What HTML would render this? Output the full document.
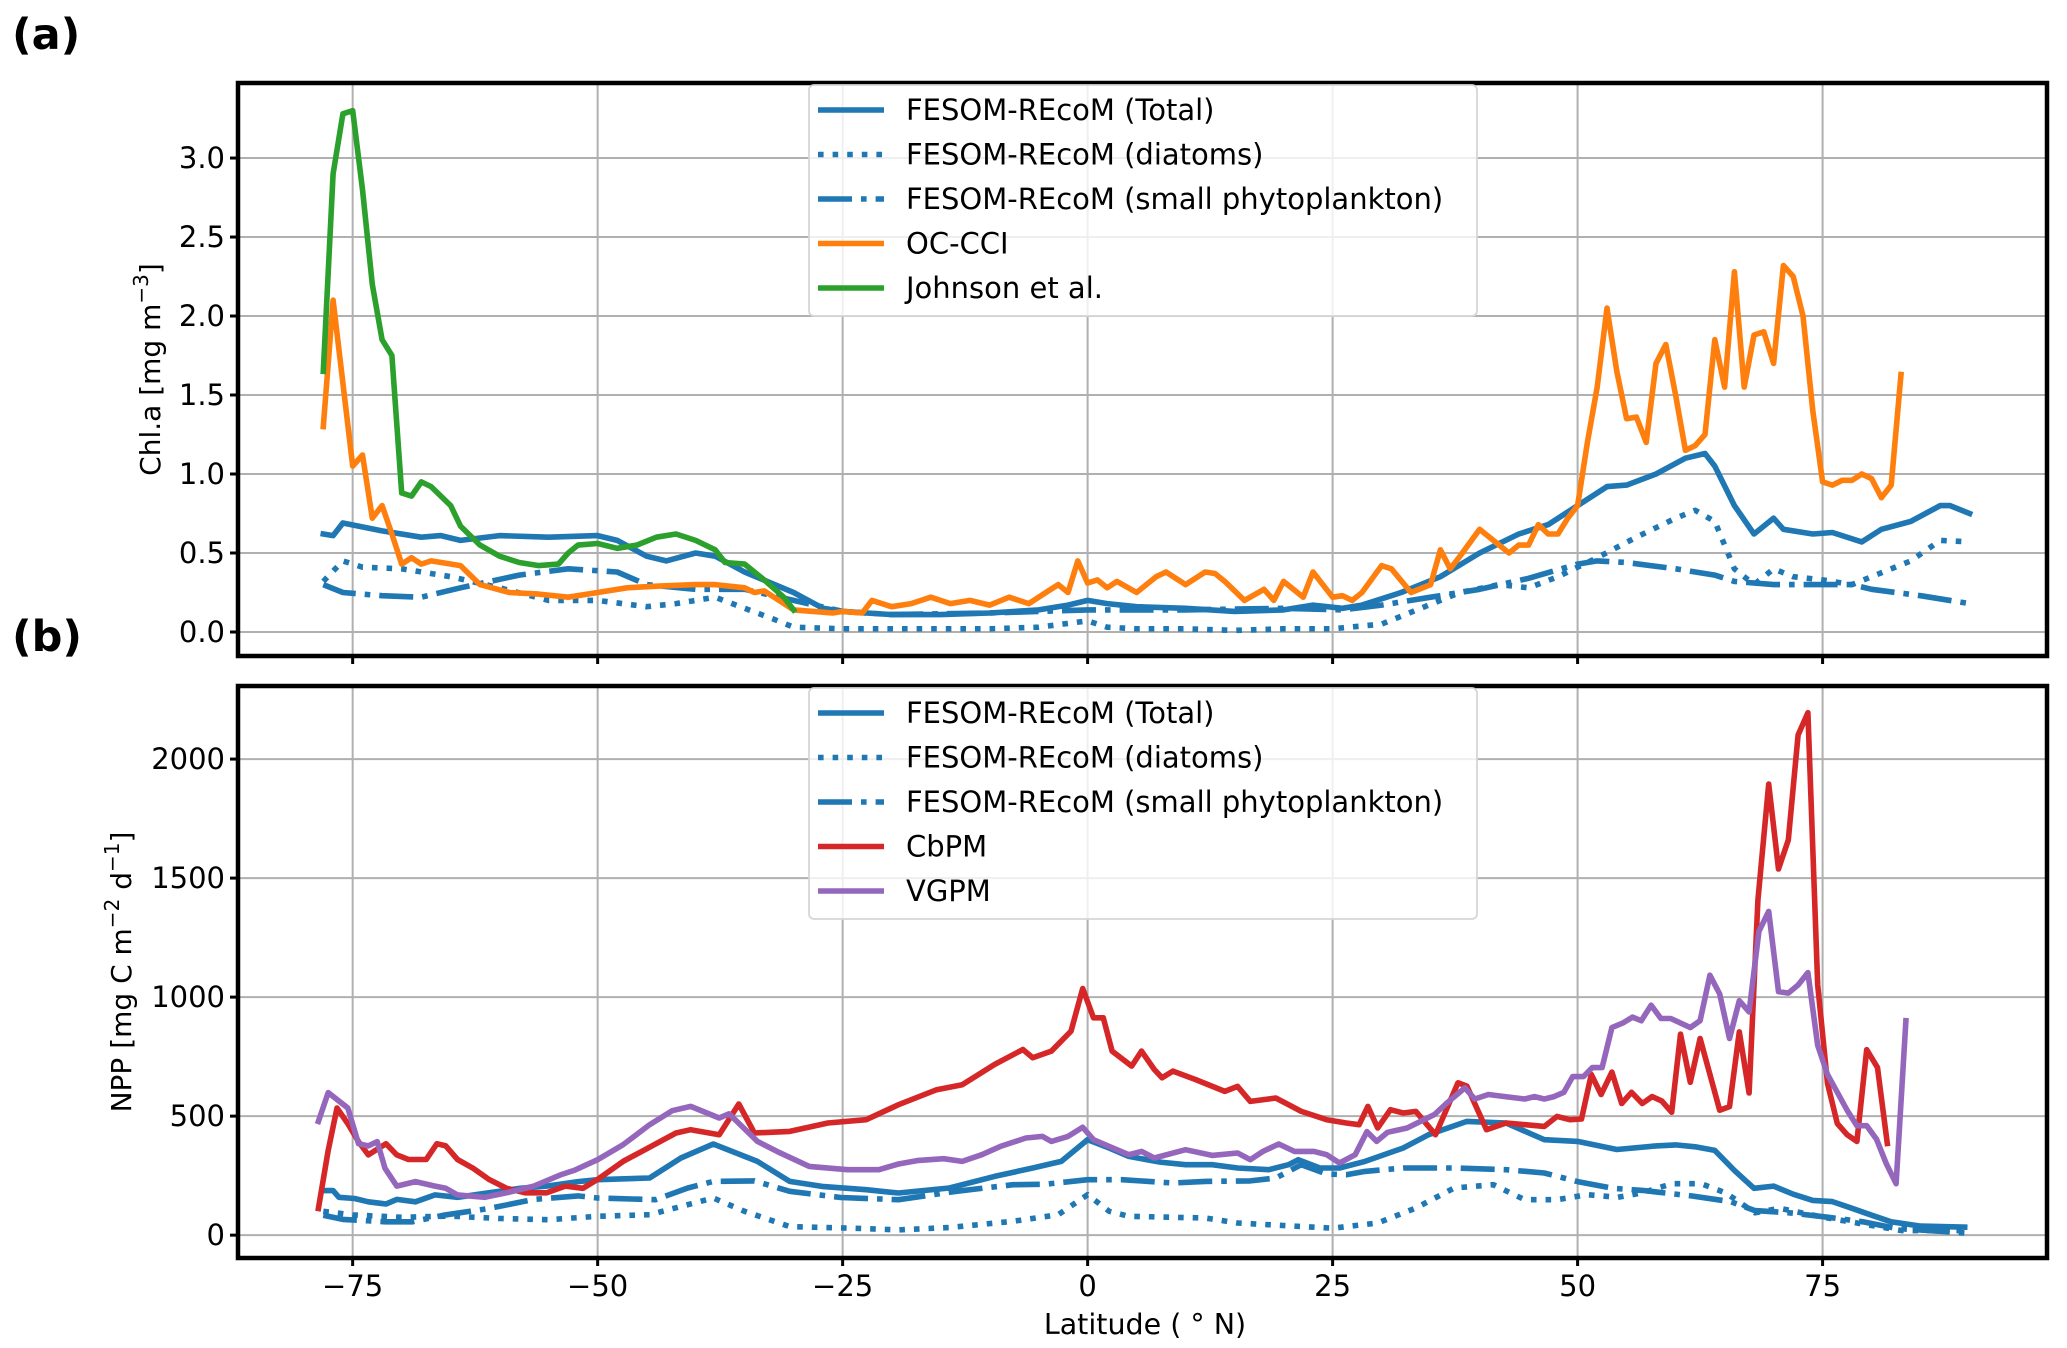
<!DOCTYPE html>
<html><head><meta charset="utf-8">
<style>
html,body{margin:0;padding:0;background:#fff;}
svg{display:block;font-family:"DejaVu Sans","Liberation Sans",sans-serif;}
</style></head>
<body>
<svg id="fig" width="2067" height="1348" viewBox="0 0 2067 1348" xmlns="http://www.w3.org/2000/svg"></svg>
<script>
// ---------- Panel (a): Chl.a ----------
const chlTotalLat = [-78,-77,-76,-72,-68,-66,-64,-60,-55,-50,-48,-45,-43,-40,-38,-35,-30,-27,-25,-20,-15,-10,-5,-2,0,2,5,10,15,20,23,26,28,32,36,40,44,47,50,53,55,58,61,63,64,66,68,70,71,74,76,79,81,84,87,88,90];
const chlTotalVal = [0.62,0.61,0.69,0.64,0.60,0.61,0.58,0.61,0.60,0.61,0.58,0.48,0.45,0.50,0.48,0.38,0.25,0.15,0.13,0.11,0.11,0.12,0.14,0.17,0.20,0.18,0.16,0.15,0.13,0.14,0.17,0.15,0.17,0.25,0.35,0.50,0.62,0.68,0.80,0.92,0.93,1.0,1.1,1.13,1.05,0.8,0.62,0.72,0.65,0.62,0.63,0.57,0.65,0.7,0.80,0.80,0.75];
const chlDiatLat = [-78,-76,-74,-70,-65,-60,-55,-50,-45,-42,-38,-35,-32,-30,-25,-20,-10,-5,0,2,5,10,15,20,25,30,34,38,42,45,48,52,56,60,62,64,66,68,70,72,75,78,80,84,87,90];
const chlDiatVal = [0.32,0.45,0.41,0.40,0.35,0.28,0.20,0.20,0.16,0.18,0.22,0.15,0.08,0.03,0.02,0.02,0.02,0.03,0.07,0.03,0.02,0.02,0.01,0.02,0.02,0.05,0.15,0.25,0.30,0.28,0.35,0.47,0.60,0.72,0.77,0.70,0.40,0.30,0.40,0.35,0.33,0.30,0.35,0.45,0.58,0.57];
const chlSmallLat = [-78,-76,-72,-68,-64,-58,-53,-48,-45,-40,-35,-30,-25,-20,-10,0,10,20,26,30,35,40,45,50,52,55,60,64,66,70,74,78,80,85,90];
const chlSmallVal = [0.30,0.25,0.23,0.22,0.28,0.36,0.40,0.38,0.30,0.27,0.27,0.20,0.13,0.11,0.12,0.14,0.14,0.15,0.14,0.17,0.22,0.27,0.34,0.43,0.45,0.44,0.40,0.36,0.32,0.30,0.30,0.30,0.27,0.23,0.18];
const occiLat = [-78,-77,-75,-74,-73,-72,-71,-70,-69,-68,-67,-64,-62,-59,-56,-53,-50,-47,-44,-40,-38,-35,-34,-33,-32,-30,-28,-26,-25,-23,-22,-20,-18,-16,-14,-12,-10,-8,-6,-4,-3,-2,-1,0,1,2,3,5,7,8,10,12,13,14,16,18,19,20,22,23,25,26,27,28,30,31,33,35,36,37,38,40,42,43,44,45,46,47,48,49,50,51,52,53,54,55,56,57,58,59,60,61,62,63,64,65,66,67,68,69,70,71,72,73,74,75,76,77,78,79,80,81,82,83];
const occiVal = [1.30,2.10,1.05,1.12,0.72,0.80,0.62,0.43,0.47,0.43,0.45,0.42,0.30,0.25,0.24,0.22,0.25,0.28,0.29,0.30,0.30,0.28,0.25,0.26,0.22,0.14,0.13,0.12,0.13,0.12,0.20,0.16,0.18,0.22,0.18,0.20,0.17,0.22,0.18,0.26,0.30,0.25,0.45,0.31,0.33,0.28,0.32,0.25,0.35,0.38,0.30,0.38,0.37,0.32,0.20,0.27,0.20,0.32,0.22,0.38,0.22,0.23,0.20,0.25,0.42,0.40,0.25,0.30,0.52,0.40,0.48,0.65,0.55,0.50,0.55,0.55,0.68,0.62,0.62,0.72,0.80,1.20,1.55,2.05,1.65,1.35,1.36,1.20,1.70,1.82,1.50,1.15,1.18,1.25,1.85,1.55,2.28,1.55,1.88,1.90,1.70,2.32,2.25,2.00,1.40,0.95,0.93,0.96,0.96,1.00,0.97,0.85,0.93,1.63];
const johnsonLat = [-78,-77,-76,-75,-74,-73,-72,-71,-70,-69,-68,-67,-65,-64,-62,-60,-58,-56,-54,-53,-52,-50,-48,-46,-44,-42,-40,-38,-37,-35,-33,-31,-30];
const johnsonVal = [1.65,2.90,3.28,3.30,2.80,2.20,1.85,1.75,0.88,0.86,0.95,0.92,0.80,0.67,0.55,0.48,0.44,0.42,0.43,0.50,0.55,0.56,0.53,0.55,0.60,0.62,0.58,0.52,0.44,0.43,0.33,0.22,0.14];
const chlTicks = [0,0.5,1.0,1.5,2.0,2.5,3.0];
const chlTickLabels = ["0.0","0.5","1.0","1.5","2.0","2.5","3.0"];

// ---------- Panel (b): NPP ----------
const nppTotalLat = [-78,-77,-76.4,-74.8,-73.4,-71.6,-70.5,-68.6,-66.6,-64.3,-61.1,-57.9,-55.2,-52,-50,-44.7,-41.5,-38.2,-33.7,-30.4,-27.1,-22.6,-19.3,-14.1,-9.5,-5.6,-2.7,0,2.2,4.2,7.4,10,12.7,15.3,18.5,20.5,21.5,23.7,25.7,28.3,32.2,34.8,38.7,42.7,46.6,50,54,58,60,62,64,66,68,70,72,74,76,78,80,82,85,89.5];
const nppTotalVal = [187,187,159,154,140,131,150,140,169,159,178,197,206,225,233,240,324,383,310,226,205,191,177,198,247,282,310,401,366,331,307,296,296,282,275,296,317,282,282,310,366,422,478,471,401,394,360,375,379,371,356,272,197,206,172,146,141,113,84,56,38,34];
const nppDiatLat = [-78,-75,-70,-65,-60,-55,-50,-44.7,-38.2,-35,-30.4,-23.9,-19.3,-14.1,-7.6,-3,0,2.2,4.2,12,15.3,25,29.6,33.5,37.4,41.4,44.6,47.9,51,54.1,56.6,59.6,62.6,65.1,68.1,70.6,75.1,79.1,83.1,89.6];
const nppDiatVal = [100,85,75,80,70,65,79,86,156,100,36,29,22,32,58,86,170,100,79,72,51,29,51,114,198,212,149,149,170,159,178,216,216,178,94,113,75,47,19,19];
const nppSmallLat = [-78,-76,-71.6,-68.9,-65.7,-61.1,-56.5,-52,-50,-44.1,-40.8,-38.2,-34,-30.4,-25.2,-19.3,-13.4,-7.6,-4.3,0,3.5,8.7,12,16.6,19.2,21.8,24.4,26.4,28.3,32.2,37.4,42.7,46.6,50,53.6,56.6,61.6,65.6,68.1,71.6,75.6,79.1,82.6,89.6];
const nppSmallVal = [84,66,56,56,84,112,150,165,156,149,198,226,228,184,158,149,184,212,214,233,233,219,226,228,240,296,257,254,268,282,282,275,261,225,197,188,165,141,103,94,75,56,28,9];
const cbpmLat = [-78.5,-77.5,-76.6,-75.5,-74.4,-73.4,-71.6,-70.5,-69.3,-67.5,-66.4,-65.5,-64.3,-62.7,-61.1,-59.3,-57.4,-55.2,-53.3,-51.5,-50,-47.4,-42,-40.5,-37.6,-35.6,-34,-30.4,-26.5,-22.6,-19.3,-15.4,-12.8,-9.5,-6.6,-5.6,-3.7,-1.7,-0.5,0.6,1.6,2.5,4.5,5.5,6.8,7.6,8.7,11,14,15.3,16.6,19.2,21.8,24.4,26.4,27.7,28.6,29.6,30.9,32.2,33.5,35.5,37.8,38.7,40.7,42.7,46.6,47.9,49.2,50.4,51.4,52.4,53.5,54.5,55.5,56.6,57.6,58.6,59.6,60.5,61.5,62.5,64.5,65.5,66.5,67.5,68.4,69.5,70.5,71.5,72.5,73.5,74.5,75.5,76.5,77.5,78.5,79.5,80.6,81.6];
const cbpmVal = [112,356,534,468,393,337,384,337,318,318,384,375,318,281,234,197,178,178,206,197,234,310,429,443,422,551,429,436,471,485,548,611,632,717,780,745,773,857,1036,913,913,773,710,773,696,661,689,654,604,625,562,576,520,485,471,464,541,450,527,513,520,422,640,626,443,471,457,499,485,488,675,591,685,553,600,553,582,563,516,844,642,826,525,540,854,597,1407,1895,1538,1660,2101,2195,1051,638,469,422,394,779,704,385];
const vgpmLat = [-78.5,-77.5,-75.5,-74.4,-73.4,-72.5,-71.7,-70.5,-68.6,-66.6,-65.5,-64.3,-61.5,-59.3,-56.5,-53.8,-52.4,-50,-47.4,-44.7,-42.4,-40.5,-37.6,-36.6,-33.7,-31.7,-28.4,-24.5,-21.3,-19.3,-17.4,-14.7,-12.8,-10.8,-8.9,-6.3,-4.6,-3.7,-2,-0.5,0.6,2.2,4.2,5.5,6.8,10,12.7,15.3,16.6,17.9,19.5,21.1,23.1,24.4,25.7,27.3,28.5,29.5,30.6,32.6,35.4,36.6,38.5,39.5,40.9,42.6,44.6,45.6,46.6,47.6,48.6,49.5,50.6,51.5,52.5,53.5,54.6,55.6,56.5,57.5,58.5,59.5,61.5,62.5,63.5,64.5,65.5,66.5,67.5,68.5,69.5,70.5,71.5,72.5,73.5,74.5,75.5,76.5,77.5,78.5,79.5,80.5,81.5,82.5,83.5];
const vgpmVal = [478,599,534,384,375,393,281,206,225,206,197,169,159,178,206,253,272,317,380,464,523,541,492,510,394,352,289,275,275,299,313,321,310,338,373,408,415,394,415,453,401,373,338,352,324,359,335,345,317,352,383,352,352,338,303,338,435,394,432,450,507,553,619,572,591,582,572,582,572,582,600,666,666,704,704,872,891,916,901,966,910,910,872,901,1092,1013,826,985,938,1276,1360,1023,1017,1051,1103,797,675,600,525,460,460,403,300,216,901];
const nppTicks = [0,500,1000,1500,2000];
const nppTickLabels = ["0","500","1000","1500","2000"];

const latTicks = [-75,-50,-25,0,25,50,75];
const latTickLabels = ["\u221275","\u221250","\u221225","0","25","50","75"];

// ---------- geometry ----------
const NS = "http://www.w3.org/2000/svg";
const svg = document.getElementById('fig');
const AX_L = 238, AX_R = 2047;
const LAT_MIN = -86.7, LAT_MAX = 97.9;
function xScale(lat){ return AX_L + (lat - LAT_MIN) / (LAT_MAX - LAT_MIN) * (AX_R - AX_L); }
const panelA = {top:83, bottom:656, vmin:-0.152, vmax:3.475};
const panelB = {top:686, bottom:1258, vmin:-96, vmax:2307};
function yScale(p, v){ return p.bottom - (v - p.vmin) / (p.vmax - p.vmin) * (p.bottom - p.top); }

function el(tag, attrs, parent){
  const e = document.createElementNS(NS, tag);
  for (const k in attrs) e.setAttribute(k, attrs[k]);
  (parent || svg).appendChild(e);
  return e;
}
const C = {blue:'#1f77b4', orange:'#ff7f0e', green:'#2ca02c', red:'#d62728', purple:'#9467bd'};
const LW = 5.6;
const STYLE = {
  solid:{dash:null},
  dotted:{dash:'5.6,9'},
  dashdot:{dash:'34,9,5.6,9'}
};

function drawPanel(p, name, ticks, tickLabels, series, legendItems, ylabel, ylabelX){
  const g = el('g', {});
  
  
  const grid = el('g', {}, g);
  
  
  latTicks.forEach(t => {
    const x = xScale(t);
    el('line', {x1:x, x2:x, y1:p.top, y2:p.bottom, stroke:'#b0b0b0', 'stroke-width':2}, grid);
  });
  ticks.forEach(t => {
    const y = yScale(p, t);
    el('line', {x1:AX_L, x2:AX_R, y1:y, y2:y, stroke:'#b0b0b0', 'stroke-width':2}, grid);
  });
  const cid = 'clip-' + name;
  const cp = el('clipPath', {id:cid}, g);
  el('rect', {x:AX_L, y:p.top, width:AX_R-AX_L, height:p.bottom-p.top}, cp);
  const lines = el('g', {'clip-path':'url(#'+cid+')'}, g);
  series.forEach(s => {
    const d = s.lat.map((la,i) => (i?'L':'M') + xScale(la).toFixed(1) + ',' + yScale(p, s.val[i]).toFixed(1)).join('');
    const path = el('path', {d:d, fill:'none', stroke:s.color, 'stroke-width':LW, 'stroke-linejoin':'round', 'stroke-linecap': s.style==='solid'?'square':'butt'}, lines);
    if (STYLE[s.style].dash) path.setAttribute('stroke-dasharray', STYLE[s.style].dash);
    
    
  });
  ticks.forEach((t,i) => {
    const y = yScale(p, t);
    el('line', {x1:AX_L-8, x2:AX_L, y1:y, y2:y, stroke:'#000', 'stroke-width':3}, g);
    const tx = el('text', {x:AX_L-13, y:y+10, 'font-size':29, 'text-anchor':'end', fill:'#000'}, g);
    tx.textContent = tickLabels[i];
    
    
  });
  latTicks.forEach(t => {
    const x = xScale(t);
    el('line', {x1:x, x2:x, y1:p.bottom, y2:p.bottom+8, stroke:'#000', 'stroke-width':3}, g);
  });
  el('rect', {x:AX_L, y:p.top, width:AX_R-AX_L, height:p.bottom-p.top, fill:'none', stroke:'#000', 'stroke-width':4.5}, g);
  const cy = (p.top + p.bottom)/2;
  const yl = el('text', {x:ylabelX, y:cy, 'font-size':28, 'text-anchor':'middle', transform:'rotate(-90 '+ylabelX+' '+cy+')', fill:'#000'}, g);
  yl.innerHTML = ylabel;
  
  
  const lg = el('g', {}, g);
  
  
  el('rect', {x:809, y:p.top+2, width:668, height:231, rx:5, fill:'rgba(255,255,255,0.8)', stroke:'#d6d6d6', 'stroke-width':1.8}, lg);
  legendItems.forEach((it,i) => {
    const y = p.top + 27 + i*44.5;
    const ln = el('line', {x1:818, x2:884, y1:y, y2:y, stroke:it.color, 'stroke-width':LW}, lg);
    if (STYLE[it.style].dash) ln.setAttribute('stroke-dasharray', STYLE[it.style].dash);
    const tx = el('text', {x:906, y:y+10, 'font-size':29, fill:'#000'}, lg);
    tx.textContent = it.label;
    
    
  });
}

drawPanel(panelA, 'panel-a-chl', chlTicks, chlTickLabels, [
  {name:'chl-fesom-total', lat:chlTotalLat, val:chlTotalVal, color:C.blue, style:'solid'},
  {name:'chl-fesom-diatoms', lat:chlDiatLat, val:chlDiatVal, color:C.blue, style:'dotted'},
  {name:'chl-fesom-small-phyto', lat:chlSmallLat, val:chlSmallVal, color:C.blue, style:'dashdot'},
  {name:'chl-oc-cci', lat:occiLat, val:occiVal, color:C.orange, style:'solid'},
  {name:'chl-johnson', lat:johnsonLat, val:johnsonVal, color:C.green, style:'solid'}
], [
  {label:'FESOM-REcoM (Total)', color:C.blue, style:'solid'},
  {label:'FESOM-REcoM (diatoms)', color:C.blue, style:'dotted'},
  {label:'FESOM-REcoM (small phytoplankton)', color:C.blue, style:'dashdot'},
  {label:'OC-CCI', color:C.orange, style:'solid'},
  {label:'Johnson et al.', color:C.green, style:'solid'}
], 'Chl.a [mg m<tspan dy="-12" font-size="20">\u22123</tspan><tspan dy="12">]</tspan>', 160);

drawPanel(panelB, 'panel-b-npp', nppTicks, nppTickLabels, [
  {name:'npp-fesom-total', lat:nppTotalLat, val:nppTotalVal, color:C.blue, style:'solid'},
  {name:'npp-fesom-diatoms', lat:nppDiatLat, val:nppDiatVal, color:C.blue, style:'dotted'},
  {name:'npp-fesom-small-phyto', lat:nppSmallLat, val:nppSmallVal, color:C.blue, style:'dashdot'},
  {name:'npp-cbpm', lat:cbpmLat, val:cbpmVal, color:C.red, style:'solid'},
  {name:'npp-vgpm', lat:vgpmLat, val:vgpmVal, color:C.purple, style:'solid'}
], [
  {label:'FESOM-REcoM (Total)', color:C.blue, style:'solid'},
  {label:'FESOM-REcoM (diatoms)', color:C.blue, style:'dotted'},
  {label:'FESOM-REcoM (small phytoplankton)', color:C.blue, style:'dashdot'},
  {label:'CbPM', color:C.red, style:'solid'},
  {label:'VGPM', color:C.purple, style:'solid'}
], 'NPP [mg C m<tspan dy="-12" font-size="20">\u22122</tspan><tspan dy="12"> d</tspan><tspan dy="-12" font-size="20">\u22121</tspan><tspan dy="12">]</tspan>', 131);

latTicks.forEach((t,i) => {
  const tx = el('text', {x:xScale(t), y:1296, 'font-size':29, 'text-anchor':'middle', fill:'#000'});
  tx.textContent = latTickLabels[i];
  
  
});
const xl = el('text', {x:1145, y:1334, 'font-size':28.5, 'text-anchor':'middle', fill:'#000'});
xl.textContent = 'Latitude ( \u00b0 N)';



const la = el('text', {x:12, y:49, 'font-size':43, 'font-weight':'bold', fill:'#000'});
la.textContent = '(a)';


const lb = el('text', {x:12, y:651, 'font-size':43, 'font-weight':'bold', fill:'#000'});
lb.textContent = '(b)';


</script>
</body></html>
